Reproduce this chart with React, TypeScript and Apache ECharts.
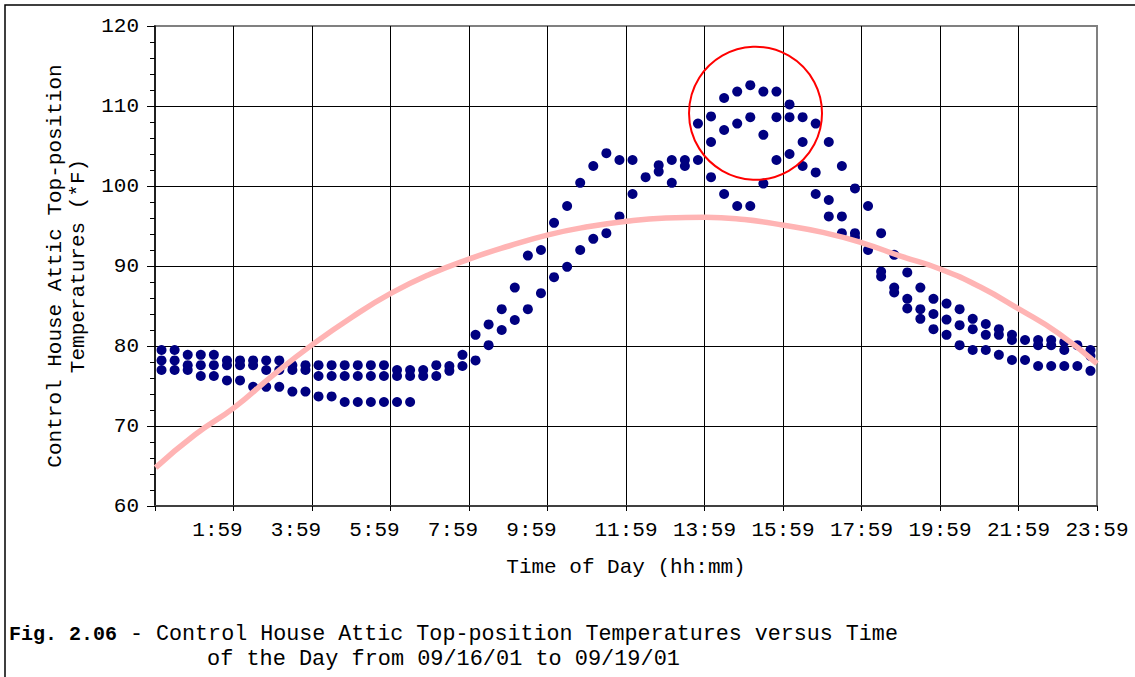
import React, { useEffect, useRef } from "react";
import * as echarts from "echarts";

// ---- data ----
const sampleTimes = [
  "0:09", "0:29", "0:49", "1:09", "1:29", "1:49", "2:09", "2:29", "2:49", "3:09", "3:29", "3:49",
  "4:09", "4:29", "4:49", "5:09", "5:29", "5:49", "6:09", "6:29", "6:49", "7:09", "7:29", "7:49",
  "8:09", "8:29", "8:49", "9:09", "9:29", "9:49", "10:09", "10:29", "10:49", "11:09", "11:29", "11:49",
  "12:09", "12:29", "12:49", "13:09", "13:29", "13:49", "14:09", "14:29", "14:49", "15:09", "15:29", "15:49",
  "16:09", "16:29", "16:49", "17:09", "17:29", "17:49", "18:09", "18:29", "18:49", "19:09", "19:29", "19:49",
  "20:09", "20:29", "20:49", "21:09", "21:29", "21:49", "22:09", "22:29", "22:49", "23:09", "23:29", "23:49",
];

// temperatures (°F) recorded at each sample time over the four days
const readings: number[][] = [
  [79.5, 78.2, 77.0], [79.5, 78.2, 77.0], [78.9, 77.6, 77.0], [78.9, 77.6, 76.25],
  [78.9, 77.6, 76.25], [78.2, 77.6, 75.7], [78.2, 77.6, 75.7], [78.2, 77.6, 74.9],
  [78.2, 77.0, 74.9], [78.2, 77.0, 74.9], [77.6, 77.0, 74.3], [77.6, 77.0, 74.3],
  [77.6, 76.25, 73.7], [77.6, 76.25, 73.7], [77.6, 76.25, 73.0], [77.6, 76.25, 73.0],
  [77.6, 76.25, 73.0], [77.6, 76.25, 73.0], [77.0, 76.25, 73.0], [77.0, 76.25, 73.0],
  [77.0, 76.25], [77.6, 76.25], [77.5, 76.9], [78.9, 77.5],
  [81.4, 78.2], [82.7, 80.1], [84.6, 82.0], [87.3, 83.25],
  [91.3, 84.6], [92.0, 86.6], [95.4, 88.6], [97.5, 89.9],
  [100.4, 92.0], [102.5, 93.4], [104.1, 94.1], [103.25, 96.2],
  [103.25, 99.0], [101.1], [102.6, 101.8], [103.25, 100.4],
  [103.25, 102.5], [107.8, 103.25], [108.7, 105.5, 101.1], [111.0, 107.0, 99.0],
  [111.8, 107.8, 97.5], [112.6, 108.6, 97.5], [111.8, 106.4, 100.3], [111.8, 108.6, 103.25],
  [110.2, 108.6, 104.0], [108.6, 105.5, 102.5], [107.8, 101.7, 99.0], [105.5, 98.25, 96.2],
  [102.5, 96.2, 94.1], [99.7, 94.1, 93.6], [97.5, 92.0], [94.1, 89.3, 88.7],
  [91.4, 87.3, 86.7], [89.2, 85.9, 84.7], [87.3, 84.6, 83.4], [85.9, 84.0, 82.1],
  [85.3, 83.3, 81.4], [84.6, 82.6, 80.1], [83.4, 82.1, 79.5], [82.75, 81.4, 79.5],
  [82.1, 81.4, 78.9], [81.4, 80.75, 78.25], [80.75, 78.25], [80.75, 80.1, 77.5],
  [80.75, 80.1, 77.5], [80.5, 79.5, 77.5], [80.1, 77.5], [79.5, 78.75, 76.9],
];

// pink trend curve, read at points along it
const trendTimes = [
  "0:00", "1:00", "2:00", "3:00", "4:00", "5:00", "6:00", "7:00", "8:00", "9:00", "10:00", "11:00",
  "12:00", "13:00", "14:00", "15:00", "16:00", "17:00", "18:00", "19:00", "20:00", "21:00", "22:00", "23:00", "23:59",
];
const trendValues = [
  64.8, 68.9, 72.3, 76.4, 80.2, 83.6, 86.6, 89.0, 90.9, 92.5, 93.9, 94.9,
  95.6, 96.0, 96.1, 95.8, 95.1, 94.2, 92.9, 91.2, 89.6, 87.4, 84.6, 81.6, 77.8,
];

const xTickLabels = ["1:59", "3:59", "5:59", "7:59", "9:59", "11:59", "13:59", "15:59", "17:59", "19:59", "21:59", "23:59"];

// highlighted region (red circle)
const circleCenterTime = "15:17";
const circleCenterValue = 109.1;

// ---- helpers ----
// axis position: minutes since 23:59 of the previous day, so ticks fall on "x:59"
const toAxis = (hm: string) => {
  const [h, m] = hm.split(":").map(Number);
  return h * 60 + m + 1;
};

const FONT = "'Liberation Mono', 'Courier New', 'DejaVu Sans Mono', monospace";

export default function App() {
  const ref = useRef<HTMLDivElement>(null);

  useEffect(() => {
    if (!ref.current) return;
    const chart = echarts.init(ref.current, null, { renderer: "svg" });

    const scatterData: number[][] = [];
    sampleTimes.forEach((t, i) => {
      readings[i].forEach((v) => scatterData.push([toAxis(t), v]));
    });
    const trendData = trendTimes.map((t, i) => [toAxis(t), trendValues[i]]);

    const baseGraphic: any[] = [
      {
        id: "frame",
        type: "rect",
        silent: true,
        shape: { x: 5, y: 5, width: 1300, height: 900 },
        style: { fill: "none", stroke: "#000", lineWidth: 1.5 },
      },
      {
        id: "cap1",
        type: "text",
        x: 9,
        y: 634,
        style: {
          text: "{b|Fig. 2.06}{r| - Control House Attic Top-position Temperatures versus Time}",
          fontFamily: FONT,
          fontSize: 21.7,
          fill: "#000",
          verticalAlign: "middle",
          rich: {
            b: { fontFamily: FONT, fontSize: 20, fontWeight: "bold", fill: "#000" },
            r: { fontFamily: FONT, fontSize: 21.7, fill: "#000" },
          },
        },
      },
      {
        id: "cap2",
        type: "text",
        x: 207,
        y: 659,
        style: {
          text: "of the Day from 09/16/01 to 09/19/01",
          fontFamily: FONT,
          fontSize: 21.9,
          fill: "#000",
          verticalAlign: "middle",
        },
      },
    ];

    chart.setOption({
      animation: false,
      backgroundColor: "#fff",
      grid: {
        left: 155,
        right: 38,
        top: 26,
        bottom: 171,
        show: true,
        borderColor: "#808080",
        borderWidth: 2,
        backgroundColor: "transparent",
      },
      xAxis: {
        type: "value",
        min: 0,
        max: 1440,
        interval: 120,
        name: "Time of Day (hh:mm)",
        nameLocation: "middle",
        nameGap: 51,
        nameTextStyle: { fontFamily: FONT, fontSize: 21, color: "#000" },
        axisLine: { show: true, lineStyle: { color: "#404040", width: 2 } },
        axisTick: { show: true, length: 5, lineStyle: { color: "#000" } },
        axisLabel: {
          margin: 14,
          fontFamily: FONT,
          fontSize: 21,
          color: "#000",
          formatter: (v: number) => {
            if (v <= 0) return "";
            const lab = xTickLabels[Math.round(v / 120) - 1];
            if (!lab) return "";
            return lab.length === 4 ? `{s|${lab}}` : `{n|${lab}}`;
          },
          rich: {
            s: { fontFamily: FONT, fontSize: 21, color: "#000", padding: [0, 32, 0, 0] },
            n: { fontFamily: FONT, fontSize: 21, color: "#000" },
          },
        },
        splitLine: {
          show: true,
          showMinLine: false,
          showMaxLine: false,
          lineStyle: { color: "#000", width: 1 },
        },
      },
      yAxis: {
        type: "value",
        min: 60,
        max: 120,
        interval: 10,
        name: "Control House Attic Top-position\nTemperatures (*F)",
        nameLocation: "middle",
        nameGap: 64,
        nameTextStyle: { fontFamily: FONT, fontSize: 21, lineHeight: 23, color: "#000" },
        axisLine: { show: true, lineStyle: { color: "#000", width: 1.5 } },
        axisTick: { show: true, length: 8, lineStyle: { color: "#000" } },
        minorTick: { show: true, splitNumber: 5, length: 5, lineStyle: { color: "#000" } },
        axisLabel: { margin: 16, fontFamily: FONT, fontSize: 21, color: "#000" },
        splitLine: {
          show: true,
          showMinLine: false,
          showMaxLine: false,
          lineStyle: { color: "#000", width: 1 },
        },
      },
      series: [
        {
          type: "scatter",
          data: scatterData,
          symbol: "circle",
          symbolSize: 10,
          itemStyle: { color: "#000080", opacity: 1 },
          z: 3,
        },
        {
          type: "line",
          data: trendData,
          smooth: true,
          showSymbol: false,
          lineStyle: { color: "#ffb4b4", width: 5.5, opacity: 1 },
          z: 4,
        },
      ],
      graphic: baseGraphic,
    });

    const c = chart.convertToPixel({ gridIndex: 0 }, [toAxis(circleCenterTime), circleCenterValue]) as number[];
    chart.setOption({
      graphic: [
        ...baseGraphic,
        {
          id: "circle",
          type: "circle",
          silent: true,
          z: 10,
          shape: { cx: c[0], cy: c[1], r: 66.5 },
          style: { fill: "none", stroke: "#ff0000", lineWidth: 2 },
        },
      ],
    });

    return () => chart.dispose();
  }, []);

  return (
    <div
      ref={ref}
      style={{ position: "absolute", left: 0, top: 0, width: 1135, height: 677, background: "#fff" }}
    />
  );
}
